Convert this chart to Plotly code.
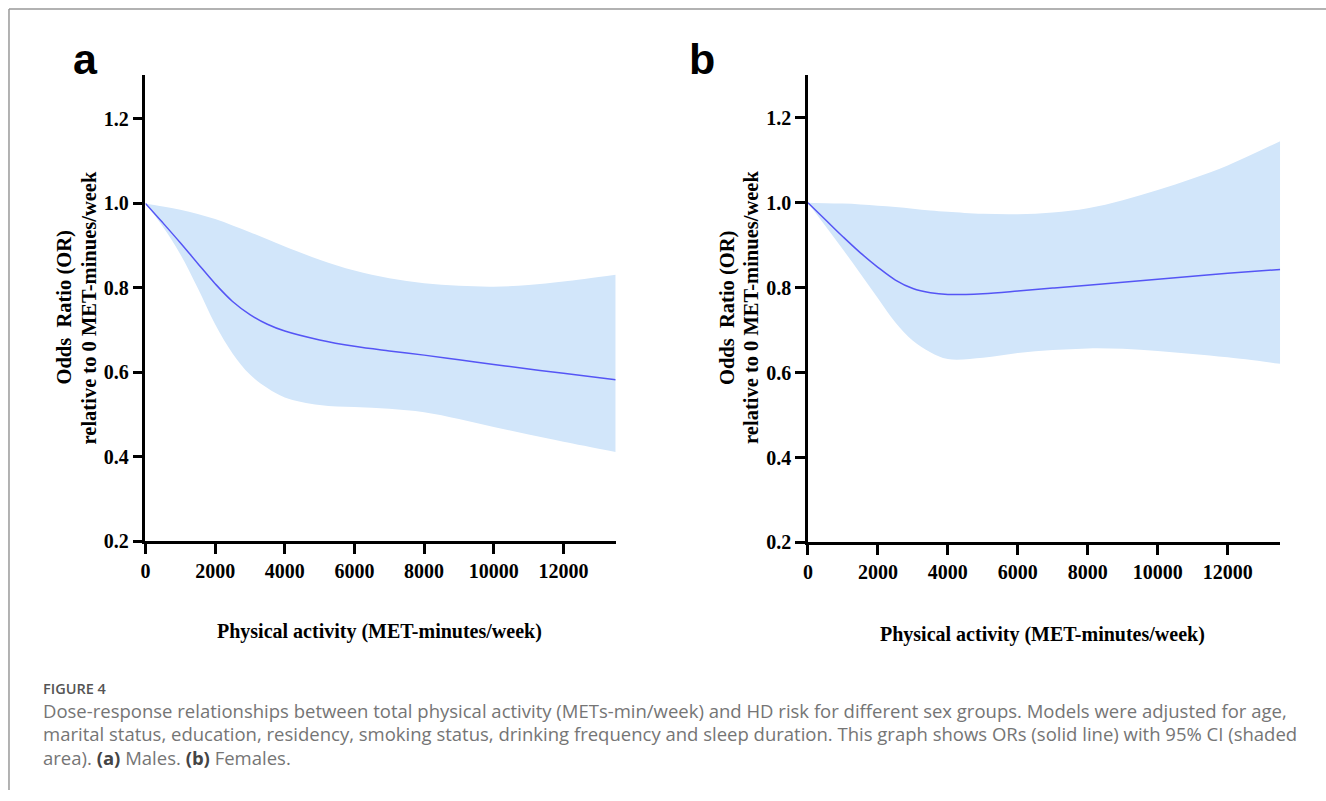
import plotly.graph_objects as go

# ---------------- data ----------------
x_met = [0, 500, 1000, 1500, 2000, 2500, 3000, 3500, 4000, 5000, 6000, 7000,
         8000, 9000, 10000, 11000, 12000, 13500]

# (a) Males
a_or = [1.0, 0.954, 0.907, 0.858, 0.81, 0.768, 0.737, 0.714, 0.698, 0.677, 0.662,
        0.651, 0.641, 0.63, 0.619, 0.608, 0.598, 0.583]
a_up = [1.0, 0.993, 0.985, 0.975, 0.963, 0.948, 0.932, 0.915, 0.898, 0.867, 0.841,
        0.823, 0.811, 0.805, 0.803, 0.807, 0.815, 0.831]
a_lo = [1.0, 0.945, 0.88, 0.8, 0.714, 0.645, 0.595, 0.563, 0.541, 0.523, 0.518,
        0.514, 0.506, 0.49, 0.471, 0.453, 0.436, 0.412]

# (b) Females
b_or = [1.0, 0.96, 0.92, 0.882, 0.848, 0.818, 0.798, 0.788, 0.784, 0.786, 0.792,
        0.799, 0.806, 0.813, 0.82, 0.827, 0.834, 0.843]
b_up = [1.0, 0.999, 0.998, 0.996, 0.993, 0.99, 0.986, 0.982, 0.979, 0.974, 0.973,
        0.977, 0.987, 1.006, 1.03, 1.057, 1.088, 1.145]
b_lo = [1.0, 0.945, 0.89, 0.833, 0.775, 0.718, 0.675, 0.648, 0.632, 0.635, 0.646,
        0.653, 0.657, 0.656, 0.651, 0.644, 0.636, 0.621]

x_ticks = [0, 2000, 4000, 6000, 8000, 10000, 12000]
x_ticklabels = ["0", "2000", "4000", "6000", "8000", "10000", "12000"]
y_ticks = [0.2, 0.4, 0.6, 0.8, 1.0, 1.2]
y_ticklabels = ["0.2", "0.4", "0.6", "0.8", "1.0", "1.2"]

panel_labels = ["a", "b"]
y_title_lines = ["Odds\u00a0 Ratio (OR)", "relative to 0 MET-minues/week"]
x_title = "Physical activity (MET-minutes/week)"
fig_label = "FIGURE 4"
caption_lines = [
    "Dose-response relationships between total physical activity (METs-min/week) and HD risk for different sex groups. Models were adjusted for age,",
    "marital status, education, residency, smoking status, drinking frequency and sleep duration. This graph shows ORs (solid line) with 95% CI (shaded",
    "area). <span style='color:#444444'><b>(a)</b></span> Males. <span style='color:#444444'><b>(b)</b></span> Females.",
]

# ---------------- figure ----------------
W, H = 1326, 801
BAND = "rgb(210,230,250)"
LINE = "rgb(85,85,245)"
SERIF = "Liberation Serif"

fig = go.Figure()

def add_panel(xa, ya, up, lo, orv):
    fig.add_trace(go.Scatter(x=x_met, y=up, mode="lines", line=dict(width=0, shape="spline"),
                             xaxis=xa, yaxis=ya, showlegend=False, hoverinfo="skip"))
    fig.add_trace(go.Scatter(x=x_met, y=lo, mode="lines", line=dict(width=0, shape="spline"),
                             fill="tonexty", fillcolor=BAND,
                             xaxis=xa, yaxis=ya, showlegend=False, hoverinfo="skip"))
    fig.add_trace(go.Scatter(x=x_met, y=orv, mode="lines",
                             line=dict(color=LINE, width=1.5, shape="spline"),
                             xaxis=xa, yaxis=ya, showlegend=False))

add_panel("x", "y", a_up, a_lo, a_or)
add_panel("x2", "y2", b_up, b_lo, b_or)

def px_x(p):
    return p / W

def px_y(p):
    return 1 - p / H

axis_common = dict(showgrid=False, zeroline=False, showline=True, linecolor="black",
                   linewidth=2.5, ticks="outside", ticklen=10, tickwidth=2.5,
                   tickcolor="black",
                   tickfont=dict(family=SERIF, size=20, color="black", weight="bold"))

fig.update_layout(
    width=W, height=H, margin=dict(l=0, r=0, t=0, b=0),
    paper_bgcolor="white", plot_bgcolor="white",
    xaxis=dict(domain=[px_x(141), px_x(613)], range=[0, 13500], anchor="y",
               tickvals=x_ticks, ticktext=x_ticklabels, **axis_common),
    yaxis=dict(domain=[px_y(549), px_y(75.6)], range=[0.2, 1.305], anchor="x",
               tickvals=y_ticks, ticktext=y_ticklabels, **axis_common),
    xaxis2=dict(domain=[px_x(806), px_x(1280)], range=[0, 13500], anchor="y2",
                tickvals=x_ticks, ticktext=x_ticklabels, **axis_common),
    yaxis2=dict(domain=[px_y(550), px_y(76)], range=[0.2, 1.301], anchor="x2",
                tickvals=y_ticks, ticktext=y_ticklabels, **axis_common),
)

ann = []
# panel letters
for lab, xp in zip(panel_labels, [66, 685]):
    ann.append(dict(text=lab, x=px_x(xp), y=px_y(60), xref="paper", yref="paper",
                    xanchor="left", yanchor="middle", showarrow=False,
                    font=dict(family="Liberation Sans", size=43, color="black", weight="bold")))
# y titles (two separately placed lines)
for x1, x2 in [(60, 84), (725, 749)]:
    for txt, xc in zip(y_title_lines, [x1, x2]):
        ann.append(dict(text=txt, x=px_x(xc), y=px_y(312), xref="paper", yref="paper",
                        xanchor="center", yanchor="middle", textangle=-90, showarrow=False,
                        font=dict(family=SERIF, size=20.5, color="black", weight="bold")))
# x titles
for xc, yc in [(376, 640), (1041, 643)]:
    ann.append(dict(text=x_title, x=px_x(xc), y=px_y(yc), xref="paper", yref="paper",
                    xanchor="center", yanchor="middle", showarrow=False,
                    font=dict(family=SERIF, size=20, color="black", weight="bold")))
# caption
ann.append(dict(text=fig_label, x=px_x(36), y=px_y(698), xref="paper", yref="paper",
                xanchor="left", yanchor="middle", showarrow=False,
                font=dict(family="Open Sans", size=14.5, color="#555555", weight=600)))
for i, line in enumerate(caption_lines):
    ann.append(dict(text=line, x=px_x(36), y=px_y(720 + 24 * i), xref="paper", yref="paper",
                    xanchor="left", yanchor="middle", showarrow=False,
                    font=dict(family="Open Sans", size=18.5, color="#757575", weight=400)))
fig.update_layout(annotations=ann)

# frame lines
fig.add_shape(type="line", xref="paper", yref="paper", x0=px_x(4), x1=1, y0=px_y(9), y1=px_y(9),
              line=dict(color="#999999", width=1.5))
fig.add_shape(type="line", xref="paper", yref="paper", x0=px_x(4), x1=px_x(4), y0=px_y(9), y1=0,
              line=dict(color="#999999", width=1.5))

fig.write_html("out.html", config={"displayModeBar": False},
               post_script="document.body.style.margin='0';document.body.style.overflow='hidden';")
